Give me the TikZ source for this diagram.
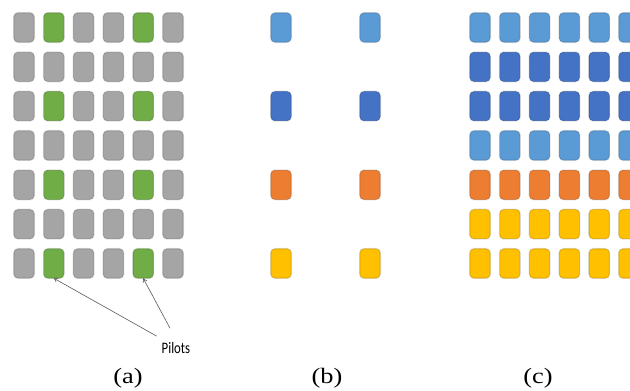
\documentclass[tikz,border=0pt]{standalone}
\usepackage{fontspec}
\setmainfont{Liberation Serif}
\newfontfamily\pilotfont{Carlito}
\usetikzlibrary{arrows.meta}

\definecolor{data}{HTML}{A5A5A5}
\definecolor{pilot}{HTML}{70AD47}
\definecolor{lblue}{HTML}{5B9BD5}
\definecolor{dblue}{HTML}{4472C4}
\definecolor{orng}{HTML}{ED7D31}
\definecolor{yell}{HTML}{FFC000}

\tikzset{
  cell/.style={rectangle,rounded corners=4pt,inner sep=0pt,
    minimum width=20pt,minimum height=29pt,
    fill=#1,draw=#1!85!black,line width=.6pt,
    preaction={draw=black!12,line width=2pt}},
  caption/.style={font=\fontsize{22}{24}\selectfont,xscale=1.2},
  pointer/.style={draw=black!65,line width=.6pt,-{To[length=4pt,width=5pt]}}
}

\begin{document}
\begin{tikzpicture}[x=1pt,y=-1pt]
  \useasboundingbox (0,0) rectangle (630,391);
  \clip (0,0) rectangle (630,391);

  % (a) pilots in the grid
  \foreach \r in {1,...,7}
    \foreach \c in {1,...,6} {
      \pgfmathtruncatemacro\isp{and(isodd(\r),or(\c==2,\c==5))}
      \ifnum\isp=1 \def\fc{pilot}\else\def\fc{data}\fi
      \node[cell=\fc] (a-\r-\c) at ({24+29.8*(\c-1)},{27.5+39.33*(\r-1)}) {};
    }

  % (b) pilots only
  \foreach \r/\col in {1/lblue,3/dblue,5/orng,7/yell}
    \foreach \c/\x in {2/281,5/370}
      \node[cell=\col] (b-\r-\c) at (\x,{27.5+39.33*(\r-1)}) {};

  % (c) interpolated grid
  \foreach \r/\col in {1/lblue,2/dblue,3/dblue,4/lblue,5/orng,6/yell,7/yell}
    \foreach \c in {1,...,6}
      \node[cell=\col] (c-\r-\c) at ({480+29.8*(\c-1)},{27.5+39.33*(\r-1)}) {};

  \node[inner sep=6pt,font=\pilotfont\fontsize{16}{17}\selectfont,xscale=.8] (pilots) at (176,348) {Pilots};
  \draw[pointer] (pilots.north west) -- (a-7-2.south);
  \draw[pointer] ([xshift=-6pt,yshift=8pt]pilots.north) -- (a-7-5.south);

  \node[caption] (cap-a) at (128,378) {(a)};
  \node[caption] (cap-b) at (327,378) {(b)};
  \node[caption] (cap-c) at (538,378) {(c)};
\end{tikzpicture}
\end{document}
